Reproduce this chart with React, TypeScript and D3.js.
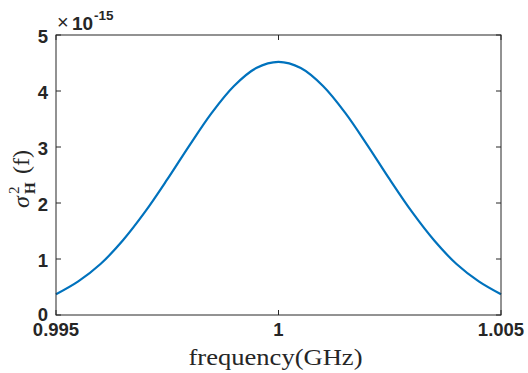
import * as d3 from "d3";

const W = 528;
const H = 373;
const M = { top: 35, right: 27, bottom: 58, left: 56 };

// frequency (GHz) and sigma_H^2 (x1e-15)
const freq = [
  0.995, 0.9955, 0.996, 0.9965, 0.997, 0.9975, 0.998, 0.9985, 0.999, 0.9995, 1.0,
  1.0005, 1.001, 1.0015, 1.002, 1.0025, 1.003, 1.0035, 1.004, 1.0045, 1.005,
];
const sigma = [
  0.37, 0.6, 0.91, 1.33, 1.84, 2.42, 3.03, 3.61, 4.09, 4.41, 4.52,
  4.41, 4.09, 3.61, 3.03, 2.42, 1.84, 1.33, 0.91, 0.6, 0.37,
];
const xTicks = [0.995, 1, 1.005];
const xTickLabels = ["0.995", "1", "1.005"];
const yTicks = [0, 1, 2, 3, 4, 5];

const AXIS = "#262626";
const SANS = "'Liberation Sans', Arial, sans-serif";
const SERIF = "'Liberation Serif', 'DejaVu Serif', serif";

export default function App() {
  const x = d3.scaleLinear().domain([0.995, 1.005]).range([M.left, W - M.right]);
  const y = d3.scaleLinear().domain([0, 5]).range([H - M.bottom, M.top]);

  const line = d3
    .line<number>()
    .x((_, i) => x(freq[i]))
    .y((d) => y(d))
    .curve(d3.curveCatmullRom);

  const x0 = x.range()[0];
  const x1 = x.range()[1];
  const y0 = y.range()[0];
  const y1 = y.range()[1];
  const tick = 5;

  return (
    <svg
      width={W}
      height={H}
      style={{ position: "absolute", left: 0, top: 0, background: "#fff" }}
    >
      <rect x={0} y={0} width={W} height={H} fill="#fff" />
      <path d={line(sigma) || ""} fill="none" stroke="#0072BD" strokeWidth={2.2} />

      {/* box */}
      <rect x={x0} y={y1} width={x1 - x0} height={y0 - y1} fill="none" stroke={AXIS} strokeWidth={1} />

      {/* x ticks */}
      {xTicks.map((t, i) => (
        <g key={"x" + i}>
          <line x1={x(t)} x2={x(t)} y1={y0} y2={y0 - tick} stroke={AXIS} />
          <line x1={x(t)} x2={x(t)} y1={y1} y2={y1 + tick} stroke={AXIS} />
          <text
            x={x(t)}
            y={y0 + 21}
            textAnchor="middle"
            fontFamily={SANS}
            fontWeight="bold"
            fontSize={18.5}
            fill={AXIS}
          >
            {xTickLabels[i]}
          </text>
        </g>
      ))}

      {/* y ticks */}
      {yTicks.map((t) => (
        <g key={"y" + t}>
          <line x1={x0} x2={x0 + tick} y1={y(t)} y2={y(t)} stroke={AXIS} />
          <line x1={x1} x2={x1 - tick} y1={y(t)} y2={y(t)} stroke={AXIS} />
          <text
            x={x0 - 8}
            y={y(t) + (t === 0 ? 6 : 8)}
            textAnchor="end"
            fontFamily={SANS}
            fontWeight="bold"
            fontSize={18.5}
            fill={AXIS}
          >
            {t}
          </text>
        </g>
      ))}

      {/* exponent */}
      <text x={57} y={29} fontFamily={SANS} fontSize={20} fill={AXIS}>
        ×
      </text>
      <text x={72} y={30} fontFamily={SANS} fontWeight="bold" fontSize={19} fill={AXIS}>
        10
      </text>
      <text x={94} y={20} fontFamily={SANS} fontWeight="bold" fontSize={13.5} fill={AXIS}>
        -15
      </text>

      {/* x label */}
      <text
        x={(x0 + x1) / 2 - 3}
        y={365}
        textAnchor="middle"
        fontFamily={SERIF}
        fontSize={24}
        fill={AXIS}
        textLength={174}
        lengthAdjust="spacingAndGlyphs"
      >
        frequency(GHz)
      </text>

      {/* y label */}
      <g transform={`translate(29,${(y0 + y1) / 2}) rotate(-90)`} fill={AXIS} fontFamily={SERIF}>
        <text x={-33} y={0} fontSize={24} fontStyle="italic">
          σ
        </text>
        <text x={-19} y={-10} fontSize={15}>
          2
        </text>
        <text x={-19} y={6} fontSize={15} fontWeight="bold">
          H
        </text>
        <text x={1} y={0} fontSize={24}>
          (f)
        </text>
      </g>
    </svg>
  );
}
